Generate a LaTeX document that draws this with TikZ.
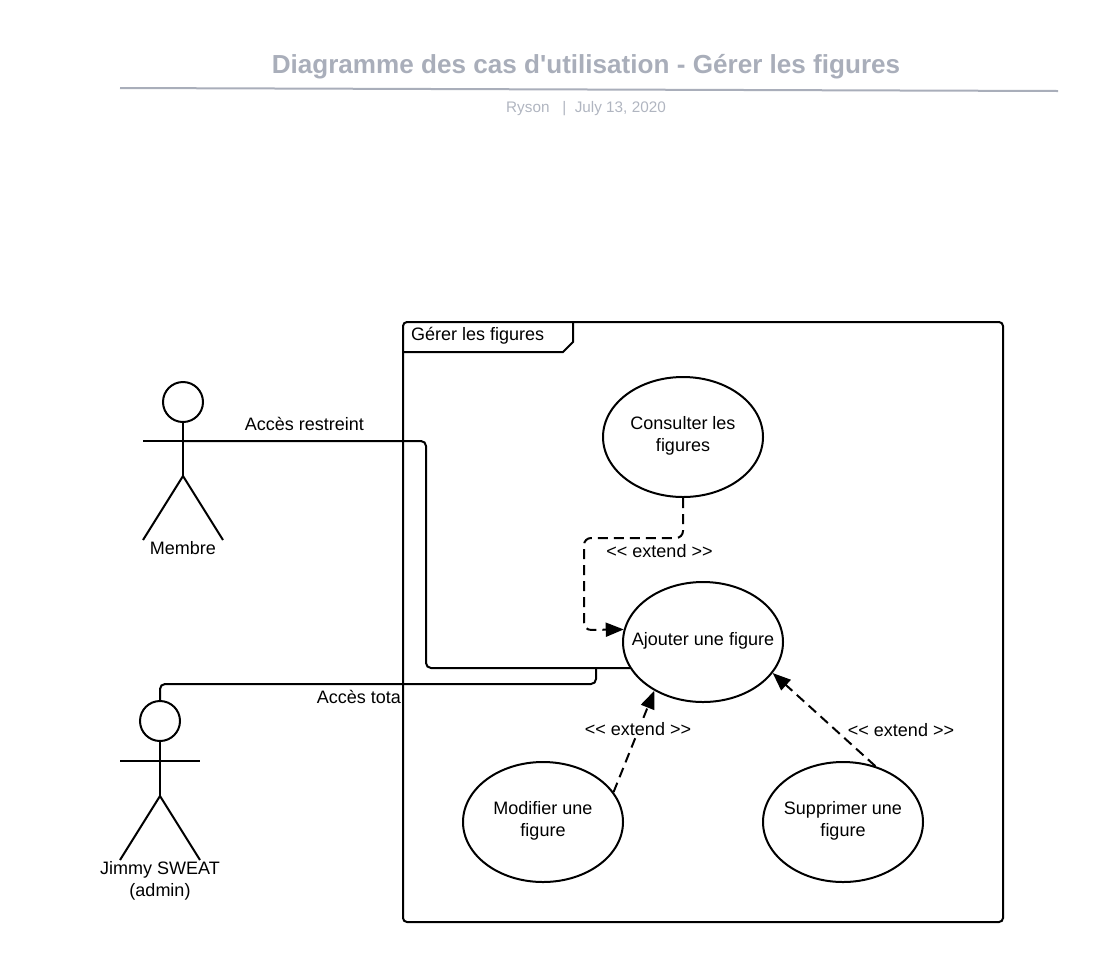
\documentclass[tikz,border=0pt]{standalone}
\usepackage{fontspec}
\setmainfont{Liberation Sans}[Ligatures=TeXOff]
\usepackage{xcolor}
\usepackage{tikz}
\usetikzlibrary{arrows.meta,shapes.geometric}
\definecolor{titlegray}{HTML}{A9AEBA}
\definecolor{subgray}{HTML}{B0B5C0}
\tikzset{
  usecase/.style={draw,ellipse,line width=2pt,minimum width=160pt,minimum height=120pt,inner sep=0pt},
  actorhead/.style={draw,circle,line width=2pt,minimum size=40pt,inner sep=0pt},
  textlabel/.style={inner sep=0pt,align=center,font=\fontsize{18}{22}\selectfont},
  line/.style={line width=2pt,rounded corners=5pt},
  extend/.style={line width=2pt,rounded corners=7pt,dash pattern=on 10pt off 6pt,-{Triangle[length=18pt,width=14pt]}}
}
\begin{document}
\begin{tikzpicture}[x=1pt,y=-1pt]
\useasboundingbox (0,0) rectangle (1099,962);
%Title
\node (title) [inner sep=0pt,text=titlegray,font=\fontsize{26.1}{30}\selectfont\bfseries] at (586,67) {Diagramme des cas d'utilisation - Gérer les figures};
\coordinate (ruleleft) at (120,88);
\coordinate (ruleright) at (1058,91);
\draw [titlegray,line width=2pt] (ruleleft) -- (ruleright);
\node (subtitle) [inner sep=0pt,text=subgray,font=\fontsize{15.3}{18}\selectfont] at (586,109) {Ryson\ \ \ |\ \ July 13, 2020};
%Frame
\draw [line width=2pt,rounded corners=4pt] (403,322) rectangle (1003,922);
\draw [line width=2pt] (403,352) -- (563,352) -- (573,342) -- (573,322);
\node (frametitle) [textlabel,anchor=west] at (411,336) {Gérer les figures};
%Use cases
\node (consulter) [usecase] at (683,437) {};
\node (ajouter) [usecase] at (703,642) {};
\node (modifier) [usecase] at (543,822) {};
\node (supprimer) [usecase] at (843,822) {};
\node (consultertext) [textlabel] at (683,436) {Consulter les\\figures};
\node (ajoutertext) [textlabel] at (703,641) {Ajouter une figure};
\node (modifiertext) [textlabel] at (543,821) {Modifier une\\figure};
\node (supprimertext) [textlabel] at (843,821) {Supprimer une\\figure};
%Actors
\node (membre) [actorhead] at (183,402) {};
\coordinate (membrearm) at (183,441);
\coordinate (membrehip) at (183,476);
\draw [line width=2pt] (membre) -- (membrehip);
\draw [line width=2pt] (143,441) -- (223,441);
\draw [line width=2pt] (143,540) -- (membrehip) -- (223,540);
\node (membrelabel) [textlabel] at (183,548) {Membre};
\node (jimmy) [actorhead] at (160,721) {};
\coordinate (jimmyhip) at (160,796);
\draw [line width=2pt] (jimmy) -- (jimmyhip);
\draw [line width=2pt] (120,761) -- (200,761);
\draw [line width=2pt] (120,860) -- (jimmyhip) -- (200,860);
\node (jimmylabel) [textlabel,anchor=north] at (160,861) {Jimmy SWEAT\\(admin)};
%Connectors
\draw [line] (membrearm) -- (426,441) -- (426,668) -- (ajouter.200 |- 426,668);
\draw [line] (jimmy.north) -- (160,684) -- (596,684) -- (596,668);
\draw [extend] (consulter.south) -- (683,538) -- (584,538) -- (584,630) -- (ajouter.171);
\draw [extend] (modifier.23) -- (ajouter.225);
\draw [extend] (supprimer.60) -- (ajouter.336);
%Text
\node (restreint) [textlabel] at (304.5,424) {Accès restreint};
\node (total) [textlabel,anchor=east] at (401,697) {Accès tota};
\node (extendtop) [textlabel] at (659.5,551) {<< extend >>};
\node (extendleft) [textlabel,fill=white,inner sep=1pt] at (638,729) {<< extend >>};
\node (extendright) [textlabel] at (901,730) {<< extend >>};
\end{tikzpicture}
\end{document}
